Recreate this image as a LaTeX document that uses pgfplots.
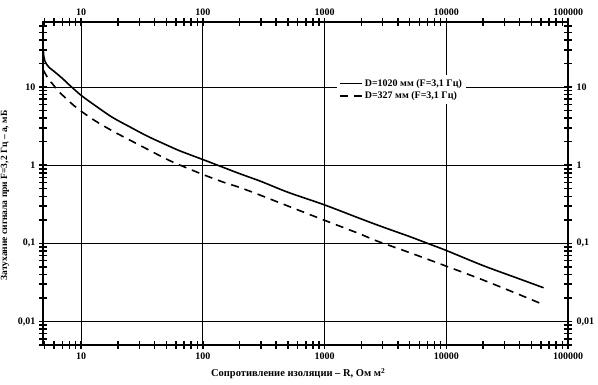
\documentclass[border=0pt]{standalone}
\usepackage{pgfplots}
\pgfplotsset{compat=1.18}
\usepackage{fontspec}
\setmainfont{Liberation Serif}
\begin{document}
\begin{tikzpicture}[font=\bfseries]
\begin{axis}[name=ax, at={(0,0)}, anchor=south west,
  xmode=log, ymode=log, scale only axis, width=525pt, height=323pt,
  xmin=4.85, xmax=100000, ymin=0.005, ymax=68,
  log ticks with fixed point,
  /pgf/number format/.cd, use comma, 1000 sep={}, assume math mode=true, /pgfplots/.cd,
  tick align=center,
  major tick length=8pt, minor tick length=8pt,
  major tick style={draw=black, line width=1.5pt},
  minor tick style={draw=black, line width=1.5pt},
  xmajorgrids, ymajorgrids,
  major grid style={draw=black, line width=0.9pt},
  axis line style={line width=1.6pt},
  xtick pos=both, ytick pos=both,
  xticklabel pos=lower, yticklabel pos=left,
  every tick label/.append style={font=\bfseries\fontsize{10}{12}\selectfont, text=black},
  xlabel={Сопротивление изоляции – R, Ом м\textsuperscript{2}},
  ylabel={Затухание сигнала при F=3,2 Гц – a, мБ},
  xlabel style={font=\bfseries\fontsize{10.5}{12}\selectfont, at={(ticklabel cs:0.486)}, yshift=-2pt},
  ylabel style={font=\bfseries\fontsize{9.5}{11}\selectfont, at={(ticklabel cs:0.463)}, yshift=2pt},
  legend style={at={(0.56,0.836)}, anchor=north west, fill=white, draw=none,
    font=\bfseries\fontsize{10}{12}\selectfont, inner sep=2pt},
  legend cell align=left,
  legend image code/.code={\draw[#1] (0pt,0pt) -- (22pt,0pt);},
]
\addplot[black, line width=1.6pt, smooth] coordinates {
(4.87,31) (4.92,25) (5.0,22) (5.2,19.5) (5.5,17.6) (6.0,15.8) (7,12.9) (8,10.6) (9,9.0) (10,7.8)
(13,5.8) (18,4.1) (25,3.1) (35,2.35) (50,1.82) (65,1.52) (100,1.18) (132,1.0) (200,0.78)
(300,0.62) (500,0.45) (1000,0.31) (2000,0.205) (3000,0.162) (5000,0.122) (7000,0.1)
(10000,0.081) (20000,0.052) (40000,0.035) (63000,0.027)
};
\addlegendentry{D=1020 мм (F=3,1 Гц)}
\addplot[black, line width=1.6pt, dash pattern=on 8pt off 6pt, smooth] coordinates {
(4.88,16.5) (5.2,13.8) (5.5,12) (5.8,11) (6.5,8.8) (7,7.9) (8,6.5) (8.7,5.8) (10,4.9)
(13,3.7) (18,2.75) (25,2.1) (35,1.6) (50,1.2) (65,1.0) (100,0.76) (150,0.6) (200,0.52)
(300,0.41) (500,0.30) (1000,0.197) (2000,0.13) (2570,0.11) (5000,0.076) (10000,0.051)
(20000,0.034) (40000,0.022) (63000,0.0164)
};
\addlegendentry{D=327 мм (F=3,1 Гц)}
\end{axis}
\begin{axis}[at={(0,0)}, anchor=south west,
  xmode=log, ymode=log, scale only axis, width=525pt, height=323pt,
  xmin=4.85, xmax=100000, ymin=0.005, ymax=68,
  log ticks with fixed point,
  /pgf/number format/.cd, use comma, 1000 sep={}, assume math mode=true, /pgfplots/.cd,
  every tick label/.append style={font=\bfseries\fontsize{10}{12}\selectfont, text=black},
  xticklabel style={yshift=3pt}, yticklabel style={xshift=5pt},
  axis line style={draw=none}, major tick length=0pt, minor tick length=0pt,
  xticklabel pos=upper, yticklabel pos=right]
\end{axis}
\pgfresetboundingbox
\path ([shift={(-43pt,-40pt)}]ax.south west) rectangle ([shift={(30pt,22pt)}]ax.north east);
\end{tikzpicture}
\end{document}
